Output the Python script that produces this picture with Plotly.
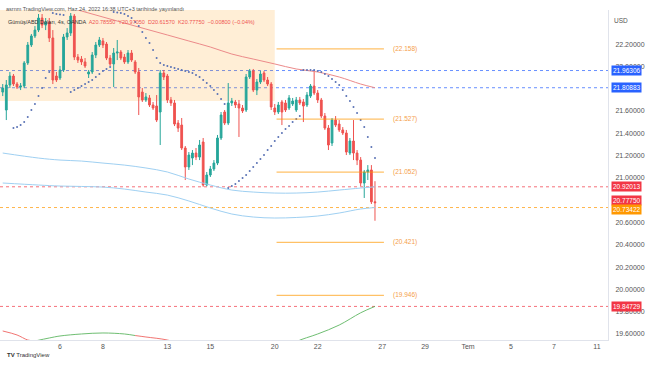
import plotly.graph_objects as go

# ---------------- data (4h candles; index 0 = Mon 6 Jun 00:00, 6 candles per day) ----------------
candle_idx = list(range(-16, 89))
opens = [21.770, 21.609, 21.833, 21.914, 21.842, 21.815, 21.824, 22.031, 22.192, 22.273,
         22.326, 22.434, 22.371, 22.398, 22.255, 21.914, 21.896, 21.968, 22.264, 22.300,
         22.452, 22.084, 22.066, 22.040, 21.932, 21.950, 22.102, 22.192, 22.228, 22.201,
         22.075, 22.022, 22.120, 22.129, 22.084, 22.040, 22.120, 22.040, 21.950, 21.770,
         21.699, 21.717, 21.654, 21.645, 21.591, 21.941, 21.914, 21.699, 21.672, 21.492,
         21.474, 21.268, 21.098, 21.178, 21.223, 21.187, 21.322, 20.936, 21.026, 21.080,
         21.133, 21.358, 21.591, 21.492, 21.672, 21.681, 21.663, 21.627, 21.609, 21.905,
         21.959, 21.788, 21.860, 21.941, 21.878, 21.842, 21.627, 21.591, 21.681, 21.672,
         21.627, 21.663, 21.609, 21.699, 21.681, 21.654, 21.734, 21.824, 21.761, 21.699,
         21.555, 21.447, 21.313, 21.519, 21.483, 21.430, 21.403, 21.223, 21.331, 21.223,
         21.160, 20.954, 21.053, 21.071, 20.7855]
highs = [21.842, 21.878, 21.950, 21.932, 21.860, 21.851, 22.048, 22.219, 22.291, 22.362,
         22.470, 22.470, 22.434, 22.434, 22.326, 21.950, 22.004, 22.291, 22.344, 22.479,
         22.470, 22.111, 22.093, 22.075, 21.968, 22.129, 22.219, 22.264, 22.255, 22.219,
         22.102, 22.165, 22.237, 22.147, 22.111, 22.147, 22.147, 22.057, 21.986, 21.806,
         21.761, 21.743, 21.681, 21.743, 21.968, 21.968, 21.932, 21.726, 21.699, 21.519,
         21.537, 21.286, 21.232, 21.250, 21.268, 21.340, 21.358, 21.053, 21.107, 21.160,
         21.385, 21.591, 21.609, 21.851, 21.717, 21.699, 21.699, 21.654, 21.932, 21.977,
         21.977, 21.887, 21.959, 21.959, 21.905, 21.860, 21.663, 21.681, 21.699, 21.699,
         21.743, 21.717, 21.726, 21.726, 21.708, 21.770, 21.842, 21.963, 21.788, 21.717,
         21.582, 21.474, 21.537, 21.555, 21.519, 21.456, 21.430, 21.358, 21.519, 21.250,
         21.187, 21.071, 21.115, 21.115, 20.9705]
lows = [21.734, 21.519, 21.806, 21.824, 21.797, 21.788, 21.806, 22.013, 22.174, 22.255,
        22.308, 22.344, 22.326, 22.219, 21.842, 21.860, 21.878, 21.950, 22.237, 22.273,
        22.057, 22.031, 22.013, 21.986, 21.896, 21.932, 22.075, 22.174, 22.165, 22.057,
        22.004, 21.815, 22.057, 22.057, 22.022, 22.022, 22.040, 21.932, 21.564, 21.681,
        21.681, 21.636, 21.609, 21.501, 21.295, 21.878, 21.672, 21.645, 21.465, 21.412,
        21.250, 20.981, 21.071, 21.115, 21.160, 21.160, 20.920, 20.925, 21.008, 21.062,
        21.115, 21.340, 21.474, 21.474, 21.645, 21.627, 21.367, 21.582, 21.591, 21.887,
        21.770, 21.743, 21.842, 21.860, 21.824, 21.609, 21.564, 21.573, 21.474, 21.591,
        21.609, 21.645, 21.591, 21.654, 21.501, 21.636, 21.717, 21.743, 21.672, 21.537,
        21.430, 21.250, 21.286, 21.456, 21.412, 21.385, 21.205, 21.205, 21.160, 21.115,
        20.927, 20.820, 20.981, 20.766, 20.6157]
closes = [21.806, 21.833, 21.914, 21.842, 21.815, 21.824, 22.031, 22.192, 22.273, 22.326,
          22.434, 22.371, 22.398, 22.255, 21.878, 21.878, 21.968, 22.264, 22.300, 22.452,
          22.084, 22.057, 22.040, 22.004, 21.950, 22.102, 22.192, 22.237, 22.192, 22.075,
          22.022, 22.120, 22.129, 22.075, 22.040, 22.120, 22.057, 21.950, 21.726, 21.699,
          21.726, 21.654, 21.627, 21.519, 21.941, 21.905, 21.699, 21.672, 21.483, 21.447,
          21.268, 21.098, 21.205, 21.223, 21.187, 21.295, 20.936, 21.026, 21.080, 21.133,
          21.358, 21.564, 21.492, 21.672, 21.690, 21.654, 21.627, 21.600, 21.905, 21.959,
          21.788, 21.860, 21.932, 21.878, 21.842, 21.636, 21.591, 21.654, 21.591, 21.609,
          21.717, 21.690, 21.699, 21.672, 21.645, 21.743, 21.824, 21.761, 21.699, 21.555,
          21.447, 21.295, 21.519, 21.474, 21.430, 21.403, 21.232, 21.331, 21.223, 21.160,
          20.954, 21.053, 21.071, 20.7855, 20.7775]

# moving averages, read once per day
ma_idx = [-16, -6, 0, 6, 12, 18, 24, 30, 36, 42, 48, 54, 60, 66, 72, 78, 84, 88]
ma_red = [22.70, 22.61, 22.551, 22.497, 22.443, 22.389, 22.335, 22.282, 22.228, 22.174,
          22.111, 22.066, 22.022, 21.977, 21.950, 21.905, 21.842, 21.80883]
ma_blue_upper = [21.223, 21.178, 21.160, 21.151, 21.133, 21.115, 21.089, 21.053, 20.990, 20.936,
                 20.891, 20.873, 20.864, 20.864, 20.873, 20.891, 20.909, 20.92013]
ma_blue_lower = [20.954, 20.936, 20.927, 20.923, 20.918, 20.900, 20.873, 20.846, 20.793, 20.730,
                 20.676, 20.649, 20.640, 20.645, 20.658, 20.685, 20.721, 20.73422]

# parabolic SAR dots
sar_idx = (list(range(-13, -2)) + list(range(-2, 2)) + list(range(3, 15))
           + list(range(15, 47)) + list(range(47, 68)) + list(range(68, 89)))
sar_val = [21.447, 21.456, 21.474, 21.501, 21.546, 21.609, 21.663, 21.734, 21.806, 21.896, 21.950,
           22.479, 22.470, 22.466, 22.461,
           21.770, 21.788, 21.806, 21.824, 21.842, 21.860, 21.878, 21.905, 21.932, 21.959, 21.977, 21.995,
           22.488, 22.483, 22.479, 22.470, 22.452, 22.434, 22.398, 22.362, 22.308, 22.255,
           22.210, 22.147, 22.075, 22.031, 22.013, 22.004, 21.995, 21.986, 21.977, 21.968,
           21.959, 21.950, 21.941, 21.923, 21.905, 21.878, 21.851, 21.824, 21.788, 21.753,
           21.708, 21.663,
           20.909, 20.927, 20.945, 20.972, 20.999, 21.026, 21.062, 21.098, 21.133, 21.169,
           21.205, 21.250, 21.286, 21.331, 21.367, 21.403, 21.438, 21.465, 21.501, 21.528, 21.555,
           21.968, 21.968, 21.968, 21.968, 21.959, 21.950, 21.932, 21.914, 21.887, 21.860,
           21.833, 21.788, 21.734, 21.690, 21.636, 21.582, 21.519, 21.456, 21.367, 21.277, 21.178]

# oscillator line at the bottom (segments: falling = red, rising = green)
osc_segments = [
    ("#ef5350", [-16, -12, -9, -7], [19.627, 19.591, 19.546, 19.537]),
    ("#4caf50", [-7, -3, 0, 6, 12, 18, 21], [19.537, 19.564, 19.582, 19.600, 19.609, 19.600, 19.586]),
    ("#ef5350", [21, 24, 30, 36, 42, 48, 54], [19.586, 19.573, 19.546, 19.49, 19.43, 19.38, 19.35]),
    ("#4caf50", [54, 60, 63, 66, 72, 78, 84, 88], [19.35, 19.40, 19.46, 19.53, 19.60, 19.68, 19.79, 19.84729]),
]

fib_levels = [22.158, 21.527, 21.052, 20.421, 19.946]
fib_start, fib_end = 60.5, 90.5

box_x = [-17, 60]
box_y = [21.69, 22.506]

level_lines = [(21.96306, "#2962ff"), (21.80883, "#2962ff"), (20.92013, "#f23645"),
               (20.73422, "#ff9800"), (19.84729, "#f23645")]
axis_labels = [(21.96306, "#2962ff", 0), (21.80883, "#2962ff", 0), (20.92013, "#f23645", 0),
               (20.77750, "#f23645", 2), (20.73422, "#ff9800", -2), (19.84729, "#f23645", 0)]

day_idx = [0, 12, 30, 42, 60, 72, 90, 102, 114, 126, 138, 150]
day_labels = ["6", "8", "13", "15", "20", "22", "27", "29", "Tem", "5", "7", "11"]
# tick labels visible on the price scale (21.8 and 20.8 are hidden behind price labels)
y_ticks = [19.6, 19.8, 20.0, 20.2, 20.4, 20.6, 21.0, 21.2, 21.4, 21.6, 22.0, 22.2]

# ---------------- figure ----------------
W, H = 654, 366
MT, MB, MR = 10, 26, 46
PH = H - MT - MB
FONT = "Liberation Sans, Arial, sans-serif"


def py(pix):
    return (H - MB - pix) / PH


fig = go.Figure()

fig.add_shape(type="rect", xref="x", yref="y", x0=box_x[0], x1=box_x[1], y0=box_y[0], y1=box_y[1],
              fillcolor="rgba(255,152,0,0.16)", line=dict(width=0), layer="below")

for val, col in level_lines:
    fig.add_shape(type="line", xref="paper", yref="y", x0=0, x1=1, y0=val, y1=val,
                  line=dict(color=col, width=1, dash="3px,3px"), opacity=0.7, layer="below")

for lvl in fib_levels:
    fig.add_shape(type="line", xref="x", yref="y", x0=fib_start, x1=fib_end, y0=lvl, y1=lvl,
                  line=dict(color="rgba(255,152,0,0.6)", width=1.2))
    fig.add_annotation(x=fib_end + 2, y=lvl, xref="x", yref="y", text=f"({lvl:.3f})",
                       showarrow=False, xanchor="left", font=dict(size=6.5, color="#f5a04a", family=FONT))

fig.add_trace(go.Scatter(x=ma_idx, y=ma_blue_upper, mode="lines", line=dict(color="#9fd0f2", width=1, shape="spline"),
                         hoverinfo="skip", showlegend=False))
fig.add_trace(go.Scatter(x=ma_idx, y=ma_blue_lower, mode="lines", line=dict(color="#9fd0f2", width=1, shape="spline"),
                         hoverinfo="skip", showlegend=False))
fig.add_trace(go.Scatter(x=ma_idx, y=ma_red, mode="lines", line=dict(color="#ec8a8a", width=1, shape="spline"),
                         hoverinfo="skip", showlegend=False))

for col, xs, ys in osc_segments:
    fig.add_trace(go.Scatter(x=xs, y=ys, mode="lines", line=dict(color=col, width=1, shape="spline"),
                             opacity=0.8, hoverinfo="skip", showlegend=False))

fig.add_trace(go.Scatter(x=sar_idx, y=sar_val, mode="markers",
                         marker=dict(size=2, color="#5a72b5"), hoverinfo="skip", showlegend=False))

fig.add_trace(go.Candlestick(
    x=candle_idx, open=opens, high=highs, low=lows, close=closes,
    increasing=dict(line=dict(color="#26a69a", width=1), fillcolor="#26a69a"),
    decreasing=dict(line=dict(color="#ef5350", width=1), fillcolor="#ef5350"),
    whiskerwidth=0, hoverinfo="skip", showlegend=False))

for val, col, ys in axis_labels:
    fig.add_annotation(x=1, xref="paper", y=val, yref="y", xanchor="left", xshift=3, yshift=ys,
                       text=f"{val:.5f}", showarrow=False, bgcolor=col, borderpad=1,
                       font=dict(size=6.5, color="white", family=FONT))

fig.add_annotation(x=1, xref="paper", y=py(15), yref="paper", xanchor="left", xshift=4,
                   text="USD", showarrow=False, font=dict(size=6.5, color="#555", family=FONT))

fig.add_annotation(x=0, xref="paper", y=py(4), yref="paper", xanchor="left", xshift=4,
                   text="asrnm TradingView.com, Haz 24, 2022 16:38 UTC+3 tarihinde yayınlandı",
                   showarrow=False, font=dict(size=5.5, color="#555", family=FONT))

fig.add_annotation(
    x=0, xref="paper", y=py(17), yref="paper", xanchor="left", xshift=6,
    text=("Gümüş/ABD Doları, 4s, OANDA  "
          "<span style='color:#ef5350'>A20.78550  Y20.97050  D20.61570  K20.77750  −0.00800 (−0.04%)</span>"),
    showarrow=False, font=dict(size=5.5, color="#333", family=FONT))

fig.add_annotation(x=0, xref="paper", y=py(360), yref="paper", xanchor="left", xshift=5,
                   text="<b>TV</b> TradingView", showarrow=False,
                   font=dict(size=6, color="#333", family=FONT))

fig.update_layout(
    width=W, height=H,
    margin=dict(l=0, r=MR, t=MT, b=MB, pad=0),
    paper_bgcolor="white", plot_bgcolor="white",
    font=dict(family=FONT, color="#555"),
    showlegend=False,
    xaxis=dict(range=[-16.76, 153.1], tickmode="array", tickvals=day_idx, ticktext=day_labels,
               tickfont=dict(size=7, color="#555"), showgrid=False, zeroline=False,
               showline=True, linecolor="#e0e3eb", linewidth=1, ticks="", rangeslider=dict(visible=False),
               automargin=False, fixedrange=True),
    yaxis=dict(range=[19.546, 22.506], side="right", tickmode="array", tickvals=y_ticks,
               ticktext=[f"{v:.5f}" for v in y_ticks], tickfont=dict(size=7, color="#555"),
               showgrid=False, zeroline=False, showline=True, linecolor="#e0e3eb", linewidth=1,
               ticks="", ticklabelstandoff=5, automargin=False, fixedrange=True),
)

fig.write_html("out.html", config={"displayModeBar": False},
               post_script="document.body.style.margin='0';document.body.style.padding='0';")
